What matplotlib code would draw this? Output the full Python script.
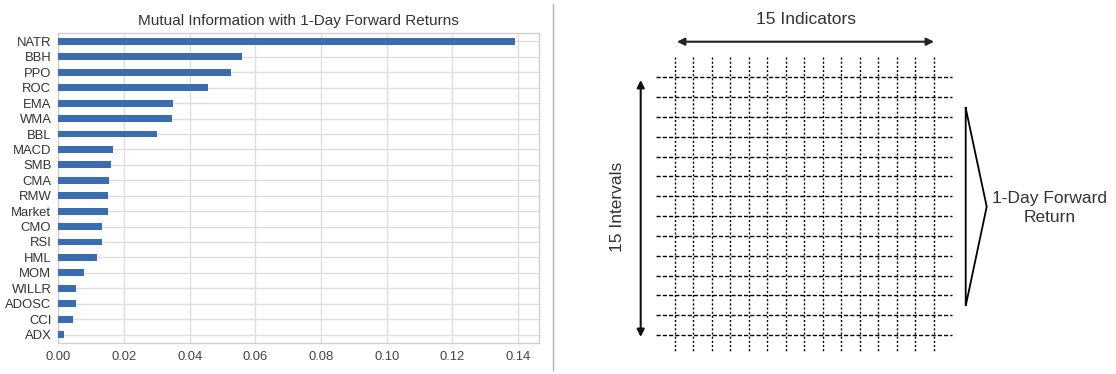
import numpy as np
import matplotlib
matplotlib.use("Agg")
import matplotlib.pyplot as plt
from matplotlib.patches import FancyArrowPatch

plt.rcParams['font.family'] = ['Liberation Sans', 'DejaVu Sans']

# ---- data ----
features = ["ADX", "CCI", "ADOSC", "WILLR", "MOM", "HML", "RSI", "CMO", "Market", "RMW",
            "CMA", "SMB", "MACD", "BBL", "WMA", "EMA", "ROC", "PPO", "BBH", "NATR"]
mi_values = [0.0017, 0.0044, 0.0054, 0.0055, 0.0079, 0.0117, 0.0132, 0.0133, 0.0151, 0.0152,
             0.0154, 0.0160, 0.0167, 0.0300, 0.0345, 0.0348, 0.0457, 0.0525, 0.0560, 0.1390]
x_ticks = [0.00, 0.02, 0.04, 0.06, 0.08, 0.10, 0.12, 0.14]
title = "Mutual Information with 1-Day Forward Returns"
n_vertical_lines = 15
n_horizontal_lines = 14

W, H = 1116, 374
fig = plt.figure(figsize=(W / 100, H / 100), dpi=100)
fig.patch.set_facecolor("white")

# ---- left bar chart ----
def fx(px):
    return px / W

def fy(py):
    return 1 - py / H

ax = fig.add_axes([fx(58.3), fy(343), fx(539) - fx(58.3), fy(33) - fy(343)])
y = np.arange(len(features))
ax.barh(y, mi_values, height=0.45, color="#3a6db0", zorder=3)
ax.set_yticks(y)
ax.set_yticklabels(features)
ax.set_xticks(x_ticks)
ax.set_xticklabels([f"{v:.2f}" for v in x_ticks])
ax.set_xlim(0, max(mi_values) * 1.053)
ax.set_ylim(-0.55, len(features) - 0.45)
ax.grid(True, color="#dedede", linewidth=1.0, zorder=0)
ax.set_axisbelow(True)
for s in ax.spines.values():
    s.set_color("#d0d0d0")
    s.set_linewidth(1.0)
ax.tick_params(axis="y", length=0, labelsize=9.4, colors="#333333", pad=5)
ax.tick_params(axis="x", length=0, labelsize=9.4, colors="#444444", pad=6)
ax.set_title(title, fontsize=11, color="#333333", pad=6)

# ---- right diagram (pixel coordinates overlay) ----
ov = fig.add_axes([0, 0, 1, 1])
ov.set_xlim(0, W)
ov.set_ylim(H, 0)
ov.axis("off")
ov.patch.set_alpha(0)

# separator
ov.plot([553, 553], [4, 370], color="#b0b0b0", linewidth=1.0)

# grid
vx = np.linspace(675, 933.7, n_vertical_lines)
hy = np.linspace(77.3, 335, n_horizontal_lines)
for xv in vx:
    ov.plot([xv, xv], [57, 352], color="black", linewidth=1.0,
            linestyle=(0, (1.5, 1.5)))
for yh in hy:
    ov.plot([656, 952], [yh, yh], color="black", linewidth=1.0,
            linestyle=(0, (3, 1.5)))

# horizontal arrow
ov.add_patch(FancyArrowPatch((677, 41.7), (934, 41.7), arrowstyle="<|-|>",
                             mutation_scale=11, color="#222222", linewidth=1.5,
                             shrinkA=0, shrinkB=0))
ov.text(806, 19.5, "15 Indicators", ha="center", va="center",
        fontsize=12.5, color="#333333")

# vertical arrow
ov.add_patch(FancyArrowPatch((640.7, 80), (640.7, 337), arrowstyle="<|-|>",
                             mutation_scale=11, color="#111111", linewidth=1.5,
                             shrinkA=0, shrinkB=0))
ov.text(618, 207, "15 Intervals", ha="center", va="center", rotation=90,
        fontsize=12.5, color="#333333")

# bracket triangle
ov.plot([965.7, 986.7, 965.7, 965.7], [108, 206.7, 306, 108],
        color="black", linewidth=1.3, solid_joinstyle="miter")
ov.text(1050, 208, "1-Day Forward\nReturn", ha="center", va="center",
        fontsize=12.5, color="#333333", linespacing=1.35)

fig.savefig("out.png", dpi=100, facecolor="white")
